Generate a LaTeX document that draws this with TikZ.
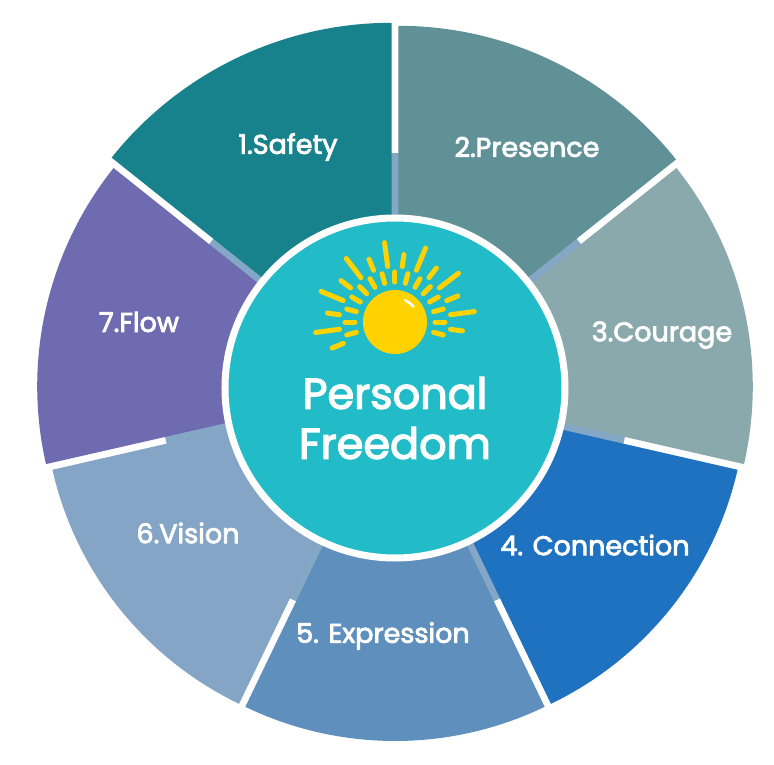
\documentclass[tikz,border=0pt]{standalone}
\usepackage{fontspec}
\setmainfont{Poppins}
\newfontfamily\medfont{Poppins}[FakeBold=3]
\definecolor{cSafety}{HTML}{17818C}
\definecolor{cPresence}{HTML}{5F9196}
\definecolor{cCourage}{HTML}{8AA9AD}
\definecolor{cConnection}{HTML}{1E72BF}
\definecolor{cExpression}{HTML}{5F8FBC}
\definecolor{cVision}{HTML}{84A5C5}
\definecolor{cFlow}{HTML}{6F6BB0}
\definecolor{cCenter}{HTML}{22BCC8}
\definecolor{cGap}{HTML}{85A7C6}
\definecolor{cSun}{HTML}{FFD200}
\begin{document}
\begin{tikzpicture}[x=1pt,y=1pt,
  lab/.style={text=white,font=\medfont\fontsize{27}{31}\selectfont},
  ray/.style={cSun,line width=5pt,line cap=round}]
\useasboundingbox[fill=white] (-395,-376) rectangle (379,388);
\fill[cGap] (0,0) circle[radius=235];
\foreach \a/\b/\c/\r in {90/141.43/cSafety/358, 38.57/90/cPresence/355, -12.86/38.57/cCourage/350, -64.29/-12.86/cConnection/345, -115.71/-64.29/cExpression/345, -167.14/-115.71/cVision/345, 141.43/192.86/cFlow/350}{
  \pgfmathsetmacro\m{(\a+\b)/2}
  \begin{scope}[shift={(\m:8)}]
    \fill[\c] (\a:150) arc[start angle=\a,end angle=\b,radius=150] -- (\b:\r) arc[start angle=\b,end angle=\a,radius=\r] -- cycle;
  \end{scope}
}
\node[lab] (s1) at (-107,241) {1.Safety};
\node[lab] (s2) at (132,241) {2.Presence};
\node[lab] (s3) at (267,53) {3.Courage};
\node[lab] (s4) at (200,-157) {4. Connection};
\node[lab] (s5) at (-12,-248) {5. Expression};
\node[lab] (s6) at (-207,-145) {6.Vision};
\node[lab] (s7) at (-256,66) {7.Flow};
\node[circle,fill=cCenter,draw=white,line width=7pt,minimum size=340pt] (c) at (0,0) {};
% sun
\begin{scope}[shift={(0,66)}]
  \fill[cSun] (0,0) circle[radius=32];
  \draw[white,line width=2.5pt,line cap=round] (40:24) arc[start angle=40,end angle=65,radius=24];
  \foreach \t [count=\i] in {-15,0,...,195}{
    \pgfmathsetmacro\o{mod(\i,2)==0 ? 80 : 68}
    \draw[ray] (\t:40) -- (\t:50);
    \draw[ray] (\t+7.5:56) -- (\t+7.5:\o);
  }
\end{scope}
\node[text=white,font=\medfont\fontsize{43}{50}\selectfont,align=center] (t) at (0,-30) {Personal\\Freedom};
\end{tikzpicture}
\end{document}
